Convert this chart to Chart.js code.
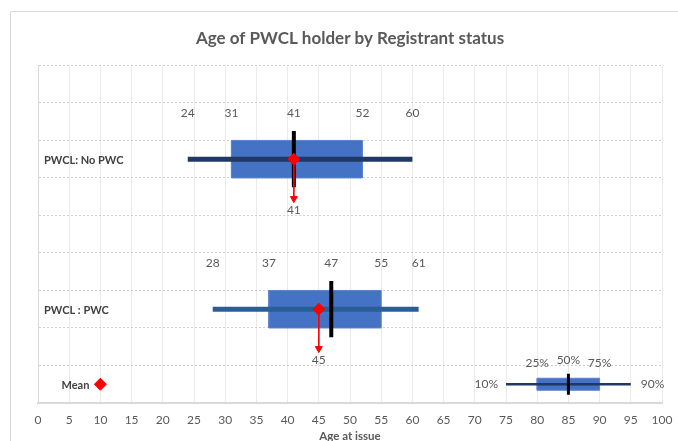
<!DOCTYPE html>
<html><head><meta charset="utf-8">
<script src="https://cdn.jsdelivr.net/npm/chart.js@4/dist/chart.umd.min.js"></script>
<style>html,body{margin:0;padding:0;background:#fff}#wrap{width:678px;height:441px;position:relative}</style>
</head><body><div id="wrap"><canvas id="c" width="678" height="441"></canvas></div>
<script>
// ---- data ----
const categories = ['PWCL: No PWC', 'PWCL : PWC'];
const p10    = [24, 28];
const q1     = [31, 37];
const median = [41, 47];
const q3     = [52, 55];
const p90    = [60, 61];
const mean   = [41, 45];
// key (legend) box
const keyLabels = ['10%', '25%', '50%', '75%', '90%'];
const keyValues = [75, 80, 85, 90, 95];
const meanKeyX = 10;
const xTickStep = 5;

// ---- layout (not data) ----
const rowY = [6.5, 2.5];
const keyY = 0.5;
const BOX_H = 0.5, MED_H = 0.75, KEY_BOX_H = 0.16, KEY_MED_H = 0.28;

const datasets = [];
categories.forEach((c, i) => {
  const yc = rowY[i];
  datasets.push({ label: c + ' mean', data: [{x: mean[i], y: yc}], pointStyle: 'rectRot', pointRadius: 6, pointBackgroundColor: '#FF0000', pointBorderColor: '#FF0000', showLine: false, order: 0 });
  datasets.push({ label: c + ' arrow', data: [{x: mean[i], y: yc}, {x: mean[i], y: yc - 1.05}], borderColor: '#FF0000', borderWidth: 1, showLine: true, pointStyle: 'triangle', rotation: 180, pointRadius: [0, 4], pointBackgroundColor: '#FF0000', pointBorderColor: '#FF0000', order: 1 });
  datasets.push({ label: c + ' median', data: [{x: median[i], y: yc - MED_H}, {x: median[i], y: yc + MED_H}], borderColor: '#000000', borderWidth: 4, showLine: true, pointRadius: 0, order: 2 });
  datasets.push({ label: c + ' whisker', data: [{x: p10[i], y: yc}, {x: p90[i], y: yc}], borderColor: i === 0 ? '#203864' : '#2A5E94', borderWidth: 5, showLine: true, pointRadius: 0, borderCapStyle: 'butt', order: 3 });
  datasets.push({ label: c + ' box', data: [{x: q1[i], y: yc - BOX_H}, {x: q3[i], y: yc - BOX_H}, {x: q3[i], y: yc + BOX_H}, {x: q1[i], y: yc + BOX_H}, {x: q1[i], y: yc - BOX_H}], borderColor: '#5A83CC', borderWidth: 1, backgroundColor: '#4472C4', fill: 'shape', showLine: true, pointRadius: 0, tension: 0, order: 4 });
});
// key
datasets.push({ label: 'key mean', data: [{x: meanKeyX, y: keyY}], pointStyle: 'rectRot', pointRadius: 6, pointBackgroundColor: '#FF0000', pointBorderColor: '#FF0000', showLine: false, order: 0 });
datasets.push({ label: 'key median', data: [{x: keyValues[2], y: keyY - KEY_MED_H}, {x: keyValues[2], y: keyY + KEY_MED_H}], borderColor: '#000000', borderWidth: 3, showLine: true, pointRadius: 0, order: 2 });
datasets.push({ label: 'key whisker', data: [{x: keyValues[0], y: keyY}, {x: keyValues[4], y: keyY}], borderColor: '#1F3864', borderWidth: 2.5, showLine: true, pointRadius: 0, order: 3 });
datasets.push({ label: 'key box', data: [{x: keyValues[1], y: keyY - KEY_BOX_H}, {x: keyValues[3], y: keyY - KEY_BOX_H}, {x: keyValues[3], y: keyY + KEY_BOX_H}, {x: keyValues[1], y: keyY + KEY_BOX_H}, {x: keyValues[1], y: keyY - KEY_BOX_H}], borderColor: '#5A83CC', borderWidth: 1, backgroundColor: '#4472C4', fill: 'shape', showLine: true, pointRadius: 0, order: 4 });

const textPlugin = {
  id: 'texts',
  beforeDraw(chart) {
    const ctx = chart.ctx;
    ctx.save();
    ctx.strokeStyle = '#D9D9D9';
    ctx.lineWidth = 1;
    ctx.beginPath();
    ctx.moveTo(10.5, 441); ctx.lineTo(10.5, 11.5); ctx.lineTo(678, 11.5);
    ctx.stroke();
    ctx.restore();
  },
  afterDatasetsDraw(chart) {
    const {ctx, scales: {x, y}, chartArea} = chart;
    ctx.save();
    ctx.textBaseline = 'middle';
    categories.forEach((c, i) => {
      const yc = rowY[i];
      ctx.font = '12px Lato'; ctx.fillStyle = '#595959'; ctx.textAlign = 'center';
      [p10[i], q1[i], median[i], q3[i], p90[i]].forEach(v => {
        ctx.fillText(String(v), x.getPixelForValue(v), y.getPixelForValue(yc + 1.22));
      });
      ctx.fillText(String(mean[i]), x.getPixelForValue(mean[i]), y.getPixelForValue(yc - 1.36));
      ctx.font = 'bold 11px Lato'; ctx.fillStyle = '#404040'; ctx.textAlign = 'left';
      ctx.fillText(c, chartArea.left + 6, y.getPixelForValue(yc) + 1);
    });
    // key texts
    ctx.font = '12px Lato'; ctx.fillStyle = '#595959';
    ctx.textAlign = 'right';
    ctx.fillText(keyLabels[0], x.getPixelForValue(keyValues[0]) - 8, y.getPixelForValue(keyY));
    ctx.textAlign = 'left';
    ctx.fillText(keyLabels[4], x.getPixelForValue(keyValues[4]) + 10, y.getPixelForValue(keyY));
    ctx.textAlign = 'center';
    ctx.fillText(keyLabels[1], x.getPixelForValue(keyValues[1]), y.getPixelForValue(keyY + 0.57));
    ctx.fillText(keyLabels[2], x.getPixelForValue(keyValues[2]), y.getPixelForValue(keyY + 0.65));
    ctx.fillText(keyLabels[3], x.getPixelForValue(keyValues[3]), y.getPixelForValue(keyY + 0.57));
    ctx.font = 'bold 11px Lato'; ctx.fillStyle = '#404040'; ctx.textAlign = 'right';
    ctx.fillText('Mean', x.getPixelForValue(meanKeyX) - 11, y.getPixelForValue(keyY) + 1);
    ctx.restore();
  }
};

new Chart(document.getElementById('c'), {
  type: 'scatter',
  data: { datasets },
  plugins: [textPlugin],
  options: {
    responsive: false,
    animation: false,
    events: [],
    layout: { padding: { left: 38, right: 16, top: 0, bottom: 0 } },
    plugins: {
      legend: { display: false },
      tooltip: { enabled: false },
      title: { display: true, text: 'Age of PWCL holder by Registrant status', color: '#595959', font: { family: 'Lato', size: 17, weight: 'bold' }, padding: { top: 28, bottom: 17 } }
    },
    scales: {
      x: {
        type: 'linear', min: 0, max: 100,
        ticks: { stepSize: xTickStep, color: '#595959', font: { family: 'Lato', size: 12 }, padding: 10, maxRotation: 0 },
        grid: { color: '#EAEAEA', drawTicks: false },
        border: { color: '#D9D9D9', width: 2 },
        title: { display: true, text: 'Age at issue', color: '#595959', font: { family: 'Lato', size: 11.5, weight: 'bold' }, padding: { top: 0, bottom: -2 } },
        afterFit(s) { s.height = 38; s.paddingLeft = 0; s.paddingRight = 0; }
      },
      y: {
        type: 'linear', min: 0, max: 9,
        ticks: { display: false, stepSize: 1 },
        grid: { color: '#D0D0D0', drawTicks: false },
        border: { color: '#D9D9D9', width: 1, dash: [2, 2] },
        afterFit(s) { s.width = 0; s.paddingTop = 0; s.paddingBottom = 0; }
      }
    }
  }
});
</script></body></html>
